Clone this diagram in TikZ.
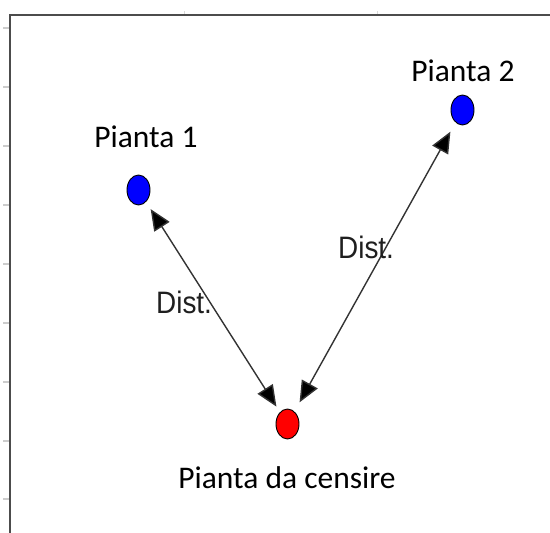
\documentclass[tikz,border=0pt]{standalone}
\usepackage{fontspec}
\setmainfont{Carlito}
\newfontfamily\distfont{Liberation Sans}
\usetikzlibrary{shapes.geometric,arrows.meta}

\begin{document}
\begin{tikzpicture}[x=1pt,y=-1pt,
      plant/.style={ellipse, draw=black, line width=0.9pt, fill=blue, minimum width=23pt, minimum height=30pt, inner sep=0pt},
      target/.style={plant, fill=red},
      lbl/.style={font=\fontsize{31.5}{36}\selectfont, anchor=base, inner sep=0pt},
      distlbl/.style={font=\distfont\fontsize{31}{34}\selectfont, text=black!88, xscale=0.9, anchor=base west, inner sep=0pt},
      dist/.style={line width=1.4pt, draw=black!80, {Triangle[length=21pt,width=18pt,fill=black]}-{Triangle[length=21pt,width=18pt,fill=black]}}]
      \useasboundingbox (0,0) rectangle (550,533);
      % frame
      \draw[line width=2pt, black!70] (9.5,533) -- (9.5,14.5) -- (550,14.5);
      \foreach \y in {28,87,146,205,264,323,382,441,499}
         \draw[line width=1.4pt, black!20] (3,\y) -- (8.5,\y);
      \foreach \x in {184,377}
         \draw[line width=1pt, black!15] (\x,11) -- (\x,13.5);
      % plants
      \node[plant] (p1) at (138.5,190) {};
      \node[plant] (p2) at (462.5,110) {};
      \node[target] (c) at (287.5,424) {};
      \node[lbl] (l1) at (146,147) {Pianta 1};
      \node[lbl] (l2) at (463,81.5) {Pianta 2};
      \node[lbl] (lc) at (287,488) {Pianta da censire};
      % distances
      \draw[dist, shorten <=8.5pt, shorten >=6.5pt] (p1) -- (c);
      \draw[dist, shorten <=10.5pt, shorten >=10.5pt] (p2) -- (c);
      \node[distlbl] (d1) at (156,313) {Dist.};
      \node[distlbl] (d2) at (338,258) {Dist.};
\end{tikzpicture}
\end{document}
